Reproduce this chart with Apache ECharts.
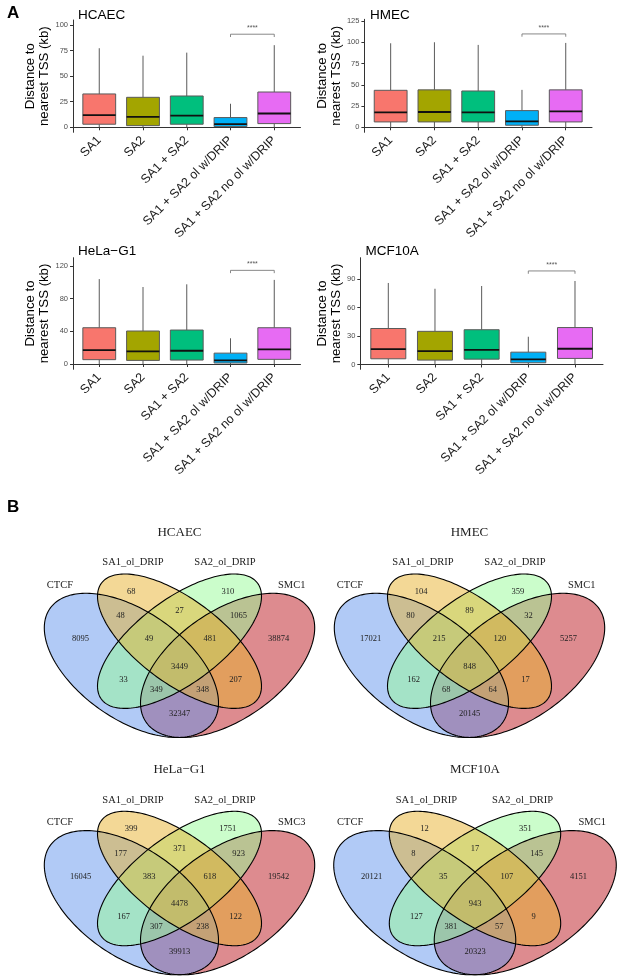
<!DOCTYPE html>
<html><head><meta charset="utf-8">
<script src="https://cdn.jsdelivr.net/npm/echarts@6/dist/echarts.min.js"></script>
<style>html,body{margin:0;padding:0;background:#fff}#c{width:620px;height:979px}</style>
</head><body><div id="c"></div>
<script>
// ---------------- DATA ----------------
const categories = ['SA1', 'SA2', 'SA1 + SA2', 'SA1 + SA2 ol w/DRIP', 'SA1 + SA2 no ol w/DRIP'];
const panelNames = ['HCAEC', 'HMEC', 'HeLa\u2212G1', 'MCF10A'];
// [lower whisker, Q1, median, Q3, upper whisker] (kb)
const hcaecBox = [[0, 3, 11.8, 32.6, 77.3], [0, 1.6, 10.2, 29.3, 70], [0, 3, 11.5, 30.6, 73], [0, 0.7, 3, 9.5, 23], [0, 3.6, 13.5, 34.5, 80.3]];
const hmecBox = [[0, 6.3, 17.6, 43.5, 98.8], [0, 6.3, 18, 44, 100], [0, 6.3, 17.6, 42.7, 96.9], [0, 2.4, 7, 19.6, 44], [0, 6.3, 18.8, 44, 99.2]];
const helaBox = [[0, 5.3, 17, 44.4, 104], [0, 4.4, 15.4, 40.4, 94.3], [0, 4.8, 16.2, 41.6, 97.6], [0, 1.2, 4.4, 13.3, 31.5], [0, 5.7, 17.8, 44.4, 103]];
const mcfBox = [[0, 6, 16.2, 38, 86.1], [0, 4.6, 14.1, 35, 80], [0, 5.6, 15.5, 36.7, 82.9], [0, 1.8, 5.3, 13, 29.3], [0, 6.4, 16.6, 39, 88.2]];
const hcaecTicks = [0, 25, 50, 75, 100];
const hmecTicks = [0, 25, 50, 75, 100, 125];
const helaTicks = [0, 40, 80, 120];
const mcfTicks = [0, 30, 60, 90];
// significance bracket height (kb) between "ol" and "no ol"
const sigHeights = [91, 109.8, 114.7, 98.8];
const sigLabel = '****';

// Venn: region order = CTCF, SA1, SA2, SMC, CTCF&SA1, SA1&SA2, SA2&SMC, CTCF&SA1&SA2, SA1&SA2&SMC,
//                      CTCF&SA2, all four, SA1&SMC, CTCF&SA2&SMC, CTCF&SA1&SMC, CTCF&SMC
const vennHCAEC = [8095, 68, 310, 38874, 48, 27, 1065, 49, 481, 33, 3449, 207, 349, 348, 32347];
const vennHMEC = [17021, 104, 359, 5257, 80, 89, 32, 215, 120, 162, 848, 17, 68, 64, 20145];
const vennHeLa = [16045, 399, 1751, 19542, 177, 371, 923, 383, 618, 167, 4478, 122, 307, 238, 39913];
const vennMCF = [20121, 12, 351, 4151, 8, 17, 145, 35, 107, 127, 943, 9, 381, 57, 20323];
const vennSetsA = ['CTCF', 'SA1_ol_DRIP', 'SA2_ol_DRIP', 'SMC1'];
const vennSetsHeLa = ['CTCF', 'SA1_ol_DRIP', 'SA2_ol_DRIP', 'SMC3'];

// ---------------- LAYOUT / STYLE ----------------
const SANS = 'Liberation Sans, Arial, sans-serif';
const SERIF = 'Liberation Serif, Times New Roman, serif';
const BOX_FILLS = ['#F8766D', '#A3A500', '#00BF7D', '#00B0F6', '#E76BF3'];
const BOX_PANELS = [
  { data: hcaecBox, ticks: hcaecTicks, grid: { left: 73, top: 20, width: 227.5, height: 112.3 }, min: -4.9, max: 104.9, title: [73, 3], gap: 18 },
  { data: hmecBox, ticks: hmecTicks, grid: { left: 364.4, top: 19.3, width: 227.6, height: 113 }, min: -5.9, max: 127, title: [365, 3], gap: 15.5 },
  { data: helaBox, ticks: helaTicks, grid: { left: 73, top: 257.7, width: 227.5, height: 111.6 }, min: -6.5, max: 130.2, title: [73, 239.5], gap: 18 },
  { data: mcfBox, ticks: mcfTicks, grid: { left: 360.3, top: 257.7, width: 242.7, height: 111.6 }, min: -5.1, max: 112.8, title: [360.5, 239.5], gap: 15.5 }
];
const VENN_PANELS = [
  { counts: vennHCAEC, sets: vennSetsA, title: 'HCAEC', c: [179.5, 666.7], xs: 1 },
  { counts: vennHMEC, sets: vennSetsA, title: 'HMEC', c: [469.5, 666.7], xs: 1 },
  { counts: vennHeLa, sets: vennSetsHeLa, title: 'HeLa\u2212G1', c: [179.5, 904], xs: 1 },
  { counts: vennMCF, sets: vennSetsA, title: 'MCF10A', c: [475, 904], xs: 1.045 }
];
// ellipse geometry (px, relative to venn centre): centre, half extents, x-y correlation, mirror
const VENN_ELLIPSES = [
  { dx: -48.1, dy: -1.3, hx: 87.1, hy: 72.1, rho: 0.52, o: 1 },   // CTCF
  { dx: 0, dy: -25.5, hx: 82, hy: 67.2, rho: 0.668, o: 1 },       // SA1
  { dx: 0, dy: -25.5, hx: 82, hy: 67.2, rho: 0.668, o: -1 },      // SA2
  { dx: 48.1, dy: -1.3, hx: 87.1, hy: 72.1, rho: 0.52, o: -1 }    // SMC
];
const VENN_ORDER = [3, 0, 2, 1];
const VENN_FILLS = ['rgba(100,149,237,0.5)', 'rgba(232,178,45,0.5)', 'rgba(152,251,152,0.5)', 'rgba(188,24,32,0.5)'];
const VENN_REGION_POS = [
  [-99, -27.7], [-48.3, -75], [48.3, -75], [99, -27.7],
  [-59, -50.7], [0, -55.7], [59, -50.7],
  [-30.4, -27.7], [30.4, -27.7],
  [-56, 12.6], [0, 0], [56, 12.6],
  [-23.2, 23], [23.2, 23], [0, 47.3]
];
const VENN_SET_POS = [[-119.5, -81.7], [-46.5, -104], [45.5, -104], [112.2, -81.7]];
const VENN_TITLE_DY = -134;

// ---------------- BUILD ----------------
const grids = [], xAxes = [], yAxes = [], series = [], titles = [];

titles.push({ text: 'A', left: 2, top: 0, textStyle: { fontFamily: SANS, fontSize: 17, fontWeight: 'bold', color: '#000' } });
titles.push({ text: 'B', left: 2, top: 494, textStyle: { fontFamily: SANS, fontSize: 17, fontWeight: 'bold', color: '#000' } });

BOX_PANELS.forEach((p, i) => {
  grids.push(Object.assign({}, p.grid));
  titles.push({ text: panelNames[i], left: p.title[0], top: p.title[1], textStyle: { fontFamily: SANS, fontSize: 13.5, fontWeight: 'normal', color: '#000' } });
  xAxes.push({
    type: 'value', gridIndex: i, min: 0.4, max: 5.6,
    splitLine: { show: false },
    axisLine: { show: true, lineStyle: { color: '#333', width: 1 } },
    axisTick: { show: true, customValues: [1, 2, 3, 4, 5], length: 3, lineStyle: { color: '#333' } },
    axisLabel: { show: true, customValues: [1, 2, 3, 4, 5], formatter: v => categories[Math.round(v) - 1], rotate: 45, margin: 6, fontFamily: SANS, fontSize: 12.5, color: '#1a1a1a' }
  });
  yAxes.push({
    type: 'value', gridIndex: i, min: p.min, max: p.max,
    splitLine: { show: false },
    axisLine: { show: true, lineStyle: { color: '#333', width: 1 } },
    axisTick: { show: true, customValues: p.ticks, length: 3, lineStyle: { color: '#333' } },
    axisLabel: { show: true, customValues: p.ticks, margin: 5, fontFamily: SANS, fontSize: 7.5, color: '#4d4d4d' },
    name: 'Distance to\nnearest TSS (kb)', nameLocation: 'middle', nameGap: p.gap,
    nameTextStyle: { fontFamily: SANS, fontSize: 13.2, color: '#000', lineHeight: 14 }
  });
  series.push({
    type: 'custom', xAxisIndex: i, yAxisIndex: i, clip: false,
    data: p.data.map((d, j) => [j + 1].concat(d)),
    encode: { x: 0, y: [1, 2, 3, 4, 5] },
    renderItem: function (params, api) {
      const x = api.value(0);
      const lo = api.coord([x, api.value(1)]);
      const q1 = api.coord([x, api.value(2)]);
      const md = api.coord([x, api.value(3)]);
      const q3 = api.coord([x, api.value(4)]);
      const hi = api.coord([x, api.value(5)]);
      const hw = api.coord([x + 0.375, 0])[0] - lo[0];
      const ls = { stroke: '#5a5a5a', lineWidth: 1 };
      return {
        type: 'group', children: [
          { type: 'line', shape: { x1: hi[0], y1: hi[1], x2: q3[0], y2: q3[1] }, style: ls },
          { type: 'line', shape: { x1: q1[0], y1: q1[1], x2: lo[0], y2: lo[1] }, style: ls },
          { type: 'rect', shape: { x: lo[0] - hw, y: q3[1], width: 2 * hw, height: q1[1] - q3[1] }, style: { fill: BOX_FILLS[params.dataIndex], stroke: '#5a5a5a', lineWidth: 1 } },
          { type: 'line', shape: { x1: lo[0] - hw, y1: md[1], x2: lo[0] + hw, y2: md[1] }, style: { stroke: '#111', lineWidth: 1.8 } }
        ]
      };
    }
  });
  series.push({
    type: 'custom', xAxisIndex: i, yAxisIndex: i, clip: false,
    data: [[4, 5, sigHeights[i]]],
    renderItem: function (params, api) {
      const a = api.coord([api.value(0), api.value(2)]);
      const b = api.coord([api.value(1), api.value(2)]);
      return {
        type: 'group', children: [
          { type: 'polyline', shape: { points: [[a[0], a[1] + 2.8], [a[0], a[1]], [b[0], b[1]], [b[0], b[1] + 2.8]] }, style: { stroke: '#7a7a7a', lineWidth: 0.9, fill: null } },
          { type: 'text', x: (a[0] + b[0]) / 2, y: a[1] - 2.5, style: { text: sigLabel, textAlign: 'center', textVerticalAlign: 'bottom', font: '7px ' + SANS, fill: '#555' } }
        ]
      };
    }
  });
});

VENN_PANELS.forEach((v, k) => {
  const gi = 4 + k;
  // 1 axis unit = 1 px (x stretched by xs); grid kept inside the canvas
  grids.push({ left: v.c[0] - 140 * v.xs, width: 275 * v.xs, top: v.c[1] - 145, height: 217 });
  xAxes.push({ type: 'value', gridIndex: gi, min: -140, max: 135, show: false });
  yAxes.push({ type: 'value', gridIndex: gi, min: -145, max: 72, inverse: true, show: false });
  const ellPts = (api, e) => {
    const pts = [];
    const d = Math.acos(e.rho);
    for (let s = 0; s <= 200; s++) {
      const t = s / 200 * Math.PI * 2;
      pts.push(api.coord([e.dx + e.o * e.hx * Math.cos(t), e.dy + e.hy * Math.cos(t - d)]));
    }
    return pts;
  };
  series.push({
    type: 'custom', xAxisIndex: gi, yAxisIndex: gi, clip: false,
    data: VENN_ORDER.map(s => [s]),
    renderItem: function (params, api) {
      const s = api.value(0);
      return { type: 'polygon', shape: { points: ellPts(api, VENN_ELLIPSES[s]) }, style: { fill: VENN_FILLS[s], stroke: null } };
    }
  });
  series.push({
    type: 'custom', xAxisIndex: gi, yAxisIndex: gi, clip: false,
    data: [[0], [1], [2], [3]],
    renderItem: function (params, api) {
      const s = api.value(0);
      return { type: 'polygon', shape: { points: ellPts(api, VENN_ELLIPSES[s]) }, style: { fill: null, stroke: '#000', lineWidth: 1.1 } };
    }
  });
  series.push({
    type: 'custom', xAxisIndex: gi, yAxisIndex: gi, clip: false,
    data: v.counts.map((c, r) => [VENN_REGION_POS[r][0], VENN_REGION_POS[r][1]]),
    renderItem: function (params, api) {
      const p = api.coord([api.value(0), api.value(1)]);
      return { type: 'text', x: p[0], y: p[1], style: { text: String(v.counts[params.dataIndex]), textAlign: 'center', textVerticalAlign: 'middle', font: '8.5px ' + SERIF, fill: '#222' } };
    }
  });
  series.push({
    type: 'custom', xAxisIndex: gi, yAxisIndex: gi, clip: false,
    data: VENN_SET_POS.map(p => [p[0], p[1]]).concat([[0, VENN_TITLE_DY]]),
    renderItem: function (params, api) {
      const p = api.coord([api.value(0), api.value(1)]);
      const isTitle = params.dataIndex === 4;
      const txt = isTitle ? v.title : v.sets[params.dataIndex];
      return { type: 'text', x: p[0], y: p[1], style: { text: txt, textAlign: 'center', textVerticalAlign: 'middle', font: (isTitle ? '13px ' : '10.5px ') + SERIF, fill: '#222' } };
    }
  });
});

const chart = echarts.init(document.getElementById('c'), null, { renderer: 'canvas', width: 620, height: 979 });
chart.setOption({
  backgroundColor: '#fff',
  animation: false,
  title: titles,
  grid: grids,
  xAxis: xAxes,
  yAxis: yAxes,
  series: series
});
</script></body></html>
